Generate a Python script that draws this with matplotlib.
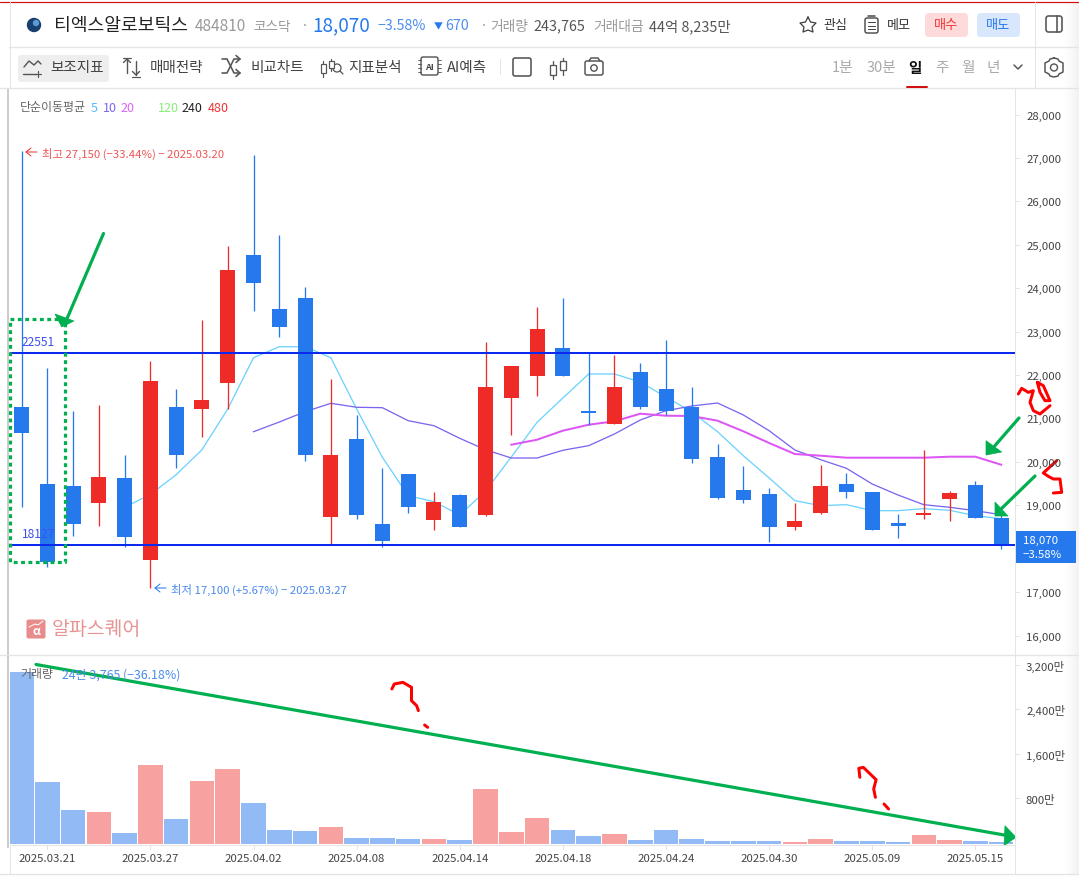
#!/usr/bin/env python3
"""Daily candle chart screenshot: price pane, volume pane, hand drawn marks."""

import matplotlib
matplotlib.use('Agg')
import matplotlib.pyplot as plt
from matplotlib.patches import Circle, FancyBboxPatch, Polygon, Rectangle

plt.rcParams['font.family'] = ['Noto Sans CJK KR', 'DejaVu Sans']

W, H = 1079, 879

opens = [21257, 19490, 19444, 19053, 19629, 17747, 21263, 21225, 21824, 24764,
         23521, 23774, 18738, 20527, 18569, 19721, 18668, 19237, 18783, 21478,
         21985, 22622, 21172, 20872, 22070, 21678, 21263, 20113, 19353, 19260,
         18507, 18823, 19490, 19306, 18592, 18777, 19145, 19467, 18708]
highs = [27150, 22162, 21172, 21310, 20158, 22323, 21678, 23267, 24972, 27067,
         25225, 24027, 21909, 21080, 19859, 19730, 19306, 19260, 22761, 22209,
         23567, 23774, 22510, 22461, 22277, 22807, 21725, 20413, 19905, 19399,
         19053, 19928, 19744, 19306, 18800, 20273, 19329, 19560, 18777]
lows = [18967, 17586, 18300, 18530, 18047, 17100, 19866, 20580, 21218, 23482,
        22883, 20028, 18109, 18691, 18047, 18829, 18438, 18507, 18753, 20626,
        21524, 21985, 20856, 20872, 21218, 21082, 19981, 19146, 19053, 18155,
        18431, 18800, 19168, 18438, 18247, 18685, 18639, 18708, 17995]
closes = [20672, 17687, 18576, 19652, 18277, 21863, 20165, 21425, 24419, 24127,
          23114, 20165, 20159, 18783, 18185, 18967, 19076, 18507, 21725, 22209,
          23060, 21985, 21126, 21725, 21263, 21172, 20066, 19175, 19122, 18507,
          18639, 19444, 19306, 18438, 18523, 18823, 19283, 18708, 18070]
volumes = [3066, 1086, 582, 546, 168, 1392, 420, 1104, 1320, 708,
           222, 204, 276, 78, 78, 60, 60, 42, 960, 186,
           438, 222, 114, 150, 42, 222, 60, 24, 24, 24,
           6, 60, 24, 24, 6, 132, 42, 24, 6]

ma5_start = 4
ma5 = [18956, 19249, 19705, 20280, 21218, 22399, 22652, 22652, 22399, 21218,
       20105, 19221, 19083, 18776, 19329, 20112, 20911, 21471, 22024, 22024,
       21839, 21494, 21149, 20695, 20142, 19629, 19106, 18991, 19014, 18876,
       18876, 18922, 18885, 18760, 18691]
ma10_start = 9
ma10 = [20695, 20918, 21155, 21349, 21257, 21248, 20948, 20833, 20543, 20280,
        20089, 20089, 20267, 20373, 20642, 20964, 21179, 21287, 21356, 21080,
        20718, 20273, 20050, 19852, 19490, 19237, 19014, 18954, 18876, 18783]
ma20_start = 19
ma20 = [20395, 20511, 20718, 20856, 20934, 21109, 21063, 21056, 20948, 20704,
        20435, 20181, 20142, 20096, 20096, 20096, 20096, 20119, 20119, 19935]

hline_levels = [22515, 18095]
hline_labels = ['22551', '18127']

# 18,000 sits under the current price box in the screenshot
price_ticks = [16000, 17000, 19000, 20000, 21000, 22000, 23000, 24000,
               25000, 26000, 27000, 28000]
volume_ticks = [800, 1600, 2400, 3200]
volume_tick_labels = ['800만', '1,600만', '2,400만', '3,200만']
date_tick_idx = [1, 5, 9, 13, 17, 21, 25, 29, 33, 37]
date_labels = ['2025.03.21', '2025.03.27', '2025.04.02', '2025.04.08', '2025.04.14',
               '2025.04.18', '2025.04.24', '2025.04.30', '2025.05.09', '2025.05.15']

RED, BLUE = '#EE2B27', '#2679ED'
VOL_RED, VOL_BLUE = '#F7A1A1', '#92BAF5'
GREEN = '#00B050'
SCRIBBLE = '#FF0000'
LINE = '#E4E4E4'
PX = 0.72  # one screen pixel in points at dpi 100


def pane(left, top, right, bottom):
    return fig.add_axes([left / W, 1 - bottom / H, (right - left) / W, (bottom - top) / H])


def px_to_idx(x):
    return (x - 21.5) / 25.78


def px_to_price(y):
    return 28000 - (y - 115.5) * 23.03


def px_to_vol(y):
    return (843.6 - y) / 177.9 * 3200


fig = plt.figure(figsize=(W / 100, H / 100), dpi=100, facecolor='white')

# Price pane
ax = pane(9.5, 89, 1014.5, 655)
ax.set_xlim(px_to_idx(9.5), px_to_idx(1014.5))
ax.set_ylim(px_to_price(655), px_to_price(89))
ax.axis('off')

ax.plot(range(ma5_start, ma5_start + len(ma5)), ma5, color='#6DD2FF', lw=1.3 * PX, zorder=2)
ax.plot(range(ma10_start, ma10_start + len(ma10)), ma10, color='#7B66F0', lw=1.3 * PX, zorder=2)
ax.plot(range(ma20_start, ma20_start + len(ma20)), ma20, color='#DD55F5', lw=2 * PX, zorder=2)

for i in range(len(opens)):
    col = RED if closes[i] >= opens[i] else BLUE
    ax.vlines(i, lows[i], highs[i], color=col, lw=1.3 * PX, zorder=3)
    ax.bar(i, abs(closes[i] - opens[i]), bottom=min(opens[i], closes[i]), width=15 / 25.78,
           color=col, zorder=3)

for level in hline_levels:
    ax.axhline(level, color='#0A2BEF', lw=2 * PX, zorder=4)

# Volume pane
vax = pane(9.5, 656, 1014.5, 846)
vax.set_xlim(px_to_idx(9.5), px_to_idx(1014.5))
vax.set_ylim(px_to_vol(846), px_to_vol(656))
vax.axis('off')
floor = px_to_vol(845)
vol_colors = [VOL_RED if c >= o else VOL_BLUE for o, c in zip(opens, closes)]
vax.bar(range(len(volumes)), [v - floor for v in volumes], bottom=floor, width=24.6 / 25.78,
        color=vol_colors)

# Everything else is drawn in screen pixels on a full size overlay
ov = fig.add_axes([0, 0, 1, 1], zorder=10)
ov.set_xlim(0, W)
ov.set_ylim(H, 0)
ov.axis('off')
ov.patch.set_alpha(0)


def txt(x, y, s, size, color='#333333', ha='left', weight='normal'):
    ov.text(x, y + 1, s, fontsize=size * PX, color=color, ha=ha, va='center', fontweight=weight)


def seg(xs, ys, color='#555555', lw=1.5, **kw):
    ov.plot(xs, ys, color=color, lw=lw * PX, solid_capstyle='round', **kw)


def hand_arrow(x0, y0, x1, y1, head):
    seg([x0, x1], [y0, y1], color=GREEN, lw=3.2)
    ov.add_patch(Polygon(head, closed=True, fc=GREEN, ec=GREEN, lw=0.5))


# Frame lines
seg([0, W], [2.5, 2.5], color='#D11010', lw=1.2)
seg([9, W], [47.5, 47.5], color=LINE, lw=1.3)
seg([0, W], [88.5, 88.5], color=LINE, lw=1.3)
seg([0, W], [655.5, 655.5], color=LINE, lw=1.3)
seg([0, W], [875, 875], color=LINE, lw=1.3)
seg([9.5, 1014.5], [846, 846], color=LINE, lw=1)
seg([1014.5, 1014.5], [89, 875], color=LINE, lw=1)
seg([9.5, 9.5], [2, 88], color=LINE, lw=1)
seg([9.5, 9.5], [846, 875], color=LINE, lw=1)
seg([1035, 1035], [3, 88], color=LINE, lw=1)
ov.add_patch(Rectangle((7, 89), 2.3, 760, color='#CCCCCC', lw=0))
for k in range(15):
    ov.add_patch(Rectangle((1064 + k, 3), 1, 872, color=str(1 - 0.0035 * k), lw=0))

# Header row
ov.add_patch(Circle((34, 26), 6.5, color='#17406F'))
ov.add_patch(Circle((36, 24), 2.5, color='#5E9BD6'))
txt(54, 25, '티엑스알로보틱스', 18.2, '#222222', weight='medium')
txt(195, 25.5, '484810', 15.4, '#999999')
txt(253, 25.5, '코스닥', 13.6, '#999999')
txt(301, 25, '·', 14, '#999999')
txt(312, 25, '18,070', 19, BLUE, weight='medium')
txt(377, 25.5, '−3.58%', 14.3, '#4C8FEE')
txt(434, 25.5, '▼', 9, BLUE)
txt(445, 25.5, '670', 14.3, '#4C8FEE')
txt(480, 25, '·', 14, '#999999')
txt(490, 25.5, '거래량', 13.8, '#999999')
txt(533, 25.5, '243,765', 14.4, '#555555')
txt(593, 25.5, '거래대금', 13.8, '#999999')
txt(649, 25.5, '44억 8,235만', 14.4, '#555555')
txt(823, 24.5, '관심', 13, '#333333', weight='medium')
txt(887, 24.5, '메모', 13, '#333333', weight='medium')

star = [(808, 18), (810.5, 23), (816, 24), (812, 28), (813, 33), (808, 31), (803, 33), (804, 28), (800, 24), (805.5, 23), (808, 18)]
seg([p[0] for p in star], [p[1] for p in star], color='#444444', lw=1.3)
ov.add_patch(FancyBboxPatch((865, 19), 13, 15, boxstyle='round,pad=0,rounding_size=2', fc='none', ec='#444444', lw=1.4 * PX))
for yy in (23, 27, 30):
    seg([868, 875], [yy, yy], color='#444444', lw=1)
seg([868, 875], [17, 17], color='#444444', lw=1.5)

for x0, fc, tc, label in [(925, '#FFDADA', '#F03535', '매수'), (977, '#D8E7FC', '#2679ED', '매도')]:
    ov.add_patch(FancyBboxPatch((x0, 14), 43, 24, boxstyle='round,pad=0,rounding_size=4', fc=fc, ec='none'))
    txt(x0 + 21.5, 25, label, 13.2, tc, ha='center', weight='medium')

ov.add_patch(FancyBboxPatch((1046, 17), 16, 16, boxstyle='round,pad=0,rounding_size=2.5', fc='none', ec='#555555', lw=1.6 * PX))
seg([1057, 1057], [17, 33], color='#555555', lw=1.6)

# Toolbar row
ov.add_patch(FancyBboxPatch((18, 56), 91, 27, boxstyle='round,pad=0,rounding_size=3', fc='#EEEEEE', ec='none'))
for x, s in [(50, '보조지표'), (150, '매매전략'), (250, '비교차트'), (348, '지표분석'), (447, 'AI예측')]:
    txt(x, 67, s, 14.6, '#444444', weight='medium')

seg([24, 29, 34, 38, 41], [68, 62, 66, 62, 65], lw=1.4)
seg([23, 36], [75, 75], lw=1.4)
seg([38, 38], [72, 78], lw=1.2)
seg([35, 41], [75, 75], lw=1.2)
seg([127, 127], [60, 74], lw=1.4)
seg([123.5, 127, 130.5], [63.5, 60, 63.5], lw=1.4)
seg([123, 131], [59, 59], lw=1.2)
seg([136, 136], [62, 76], lw=1.4)
seg([132.5, 136, 139.5], [72.5, 76, 72.5], lw=1.4)
seg([132, 140], [77.5, 77.5], lw=1.2)
seg([222, 227, 234, 240], [60, 60, 74, 74], lw=1.6)
seg([222, 227, 234, 240], [74, 74, 60, 60], lw=1.6)
seg([236, 240, 236], [56.5, 60, 63.5], lw=1.6)
seg([236, 240, 236], [70.5, 74, 77.5], lw=1.6)
for xx, top, bottom, y0, y1 in [(323, 62, 78, 65, 74), (331, 60, 72, 62, 69)]:
    seg([xx, xx], [top, bottom], lw=1.2)
    ov.add_patch(Rectangle((xx - 2.5, y0), 5, y1 - y0, fc='white', ec='#555555', lw=1.2 * PX, zorder=3))
ov.add_patch(Circle((337, 69), 4, fc='none', ec='#555555', lw=1.3 * PX))
seg([340, 343], [72, 75], lw=1.3)
ov.add_patch(FancyBboxPatch((421, 58), 17, 18, boxstyle='round,pad=0,rounding_size=2', fc='none', ec='#444444', lw=1.3 * PX))
txt(429.5, 66, 'AI', 9, '#444444', ha='center', weight='bold')
for yy in (61, 65, 69, 73):
    seg([418, 421], [yy, yy], color='#444444', lw=0.8)
    seg([438, 441], [yy, yy], color='#444444', lw=0.8)
seg([500, 500], [60, 75], color=LINE, lw=1)
ov.add_patch(FancyBboxPatch((513, 59), 18, 18, boxstyle='round,pad=0,rounding_size=2', fc='none', ec='#555555', lw=1.6 * PX))
for xx, top, bottom, y0, y1 in [(553, 62, 80, 66, 76), (563, 59, 76, 62, 71)]:
    seg([xx, xx], [top, bottom], lw=1.3)
    ov.add_patch(Rectangle((xx - 2.7, y0), 5.4, y1 - y0, fc='white', ec='#555555', lw=1.3 * PX, zorder=3))
ov.add_patch(FancyBboxPatch((585, 62), 18, 14, boxstyle='round,pad=0,rounding_size=2', fc='none', ec='#555555', lw=1.5 * PX))
seg([589, 591, 598, 600], [62, 59, 59, 62], lw=1.5)
ov.add_patch(Circle((594, 69), 3.2, fc='none', ec='#555555', lw=1.4 * PX))

for x, s, col, wt in [(842.5, '1분', '#AAAAAA', 'medium'), (881.5, '30분', '#AAAAAA', 'medium'),
                      (915, '일', '#111111', 'bold'), (942, '주', '#AAAAAA', 'medium'),
                      (967.5, '월', '#AAAAAA', 'medium'), (993.5, '년', '#AAAAAA', 'medium')]:
    txt(x, 67, s, 14.6, col, ha='center', weight=wt)
seg([906.5, 926.5], [88, 88], color='#D11010', lw=2)
seg([1014, 1018, 1022], [66, 70, 66], color='#555555', lw=1.5)
gear = [(1054, 59), (1058, 60), (1059, 62), (1063, 64), (1063, 73), (1059, 75), (1058, 77), (1054, 78),
        (1050, 77), (1049, 75), (1045, 73), (1045, 64), (1049, 62), (1050, 60), (1054, 59)]
seg([p[0] for p in gear], [p[1] for p in gear], lw=1.5)
ov.add_patch(Circle((1054, 68.5), 3.5, fc='none', ec='#555555', lw=1.4 * PX))

# Moving average legend
txt(20, 107, '단순이동평균', 12, '#666666')
for x, s, col in [(91, '5', '#55BBFF'), (103, '10', '#7B66F0'), (120.5, '20', '#DD66F5'),
                  (157.5, '120', '#88EE77'), (182, '240', '#222222'), (208, '480', '#EE3333')]:
    txt(x, 107, s, 12.6, col)

# High and low notes
seg([37, 26, 31], [153, 153, 149], color='#EE3333', lw=1)
seg([26, 31], [153, 157], color='#EE3333', lw=1)
txt(42, 152.5, '최고 27,150 (−33.44%) − 2025.03.20', 11.35, '#EE5555')
seg([166, 155, 160], [589, 589, 585], color=BLUE, lw=1)
seg([155, 160], [589, 593], color=BLUE, lw=1)
txt(171, 588.5, '최저 17,100 (+5.67%) − 2025.03.27', 11.35, '#4A8AEB')

txt(22, 341.5, hline_labels[0], 12, '#3C50F0')
txt(22, 533.5, hline_labels[1], 12, '#3C50F0')

# Watermark
ov.add_patch(FancyBboxPatch((26.5, 620.5), 19, 19, boxstyle='round,pad=0,rounding_size=2', fc='#E88B8B', ec='none'))
seg([29, 35, 38, 43], [628, 625, 626, 622], color='white', lw=1)
txt(36, 631, 'α', 12, 'white', ha='center', weight='bold')
txt(52, 629, '알파스퀘어', 19.4, '#E89494', weight='medium')

txt(20, 674, '거래량', 12, '#666666')
txt(62, 674, '24만 3,765 (−36.18%)', 12.3, '#4A8AEB')

# Right and bottom axes
for p in price_ticks:
    y = 115.5 + (28000 - p) / 23.03
    seg([1014.5, 1019], [y, y], color=LINE, lw=1)
    txt(1026, y, f'{p:,}', 11.4, '#444444')
for v, s in zip(volume_ticks, volume_tick_labels):
    y = 843.6 - v / 3200 * 177.9
    seg([1014.5, 1019], [y, y], color=LINE, lw=1)
    txt(1026, y, s, 11.4, '#444444')
for i, s in zip(date_tick_idx, date_labels):
    x = 21.5 + i * 25.78
    seg([x, x], [846, 850], color=LINE, lw=1)
    txt(x, 858.5, s, 11.4, '#444444', ha='center')

ov.add_patch(Rectangle((1016, 532), 59.5, 32, color=BLUE, lw=0))
txt(1023, 540, '18,070', 11.4, 'white', weight='medium')
txt(1023, 554, '−3.58%', 11.4, 'white', weight='medium')

# Hand drawn marks
ov.plot([10, 65, 65, 10, 10], [320, 320, 562.5, 562.5, 320], color=GREEN, lw=3.2 * PX,
        linestyle=(0, (1.2, 1.1)))
hand_arrow(103.5, 234.5, 66, 322, [(55, 315), (74, 322), (61.7, 328)])
hand_arrow(1019, 419, 992, 450, [(986, 441.7), (1001.7, 453), (986, 456)])
hand_arrow(1035, 477, 1000, 511, [(995, 503), (1008, 517), (995, 517)])
hand_arrow(36, 665.5, 1007, 836.5, [(1005, 826.7), (1004, 846.7), (1016, 838.3)])

z6 = lambda pts: ([700 + a / 3 for a, b in pts], [370 + b / 3 for a, b in pts])
for pts in ([(955, 75), (965, 58), (985, 70), (1000, 65), (990, 100), (1000, 125), (1020, 135), (1050, 110)],
            [(1012, 40), (1030, 50), (1050, 95), (1035, 95), (1020, 70), (1012, 40)],
            [(1070, 275), (1030, 312), (1045, 322), (1060, 330), (1080, 330), (1085, 370), (1060, 372)]):
    xs, ys = z6(pts)
    seg(xs, ys, color=SCRIBBLE, lw=3)
z7 = lambda pts: ([a / 2.904 for a, b in pts], [650 + b / 3 for a, b in pts])
for pts in ([(1138, 120), (1145, 105), (1170, 100), (1195, 115), (1195, 155), (1210, 170), (1215, 185)],
            [(1233, 228), (1242, 235)]):
    xs, ys = z7(pts)
    seg(xs, ys, color=SCRIBBLE, lw=3)
z8 = lambda pts: ([540 + a / 2.892 for a, b in pts], [650 + b / 3 for a, b in pts])
for pts in ([(925, 385), (922, 358), (935, 355), (950, 370), (972, 392), (965, 420), (970, 445)],
            [(995, 465), (1008, 480)]):
    xs, ys = z8(pts)
    seg(xs, ys, color=SCRIBBLE, lw=3)

fig.savefig('out.png', dpi=100)
